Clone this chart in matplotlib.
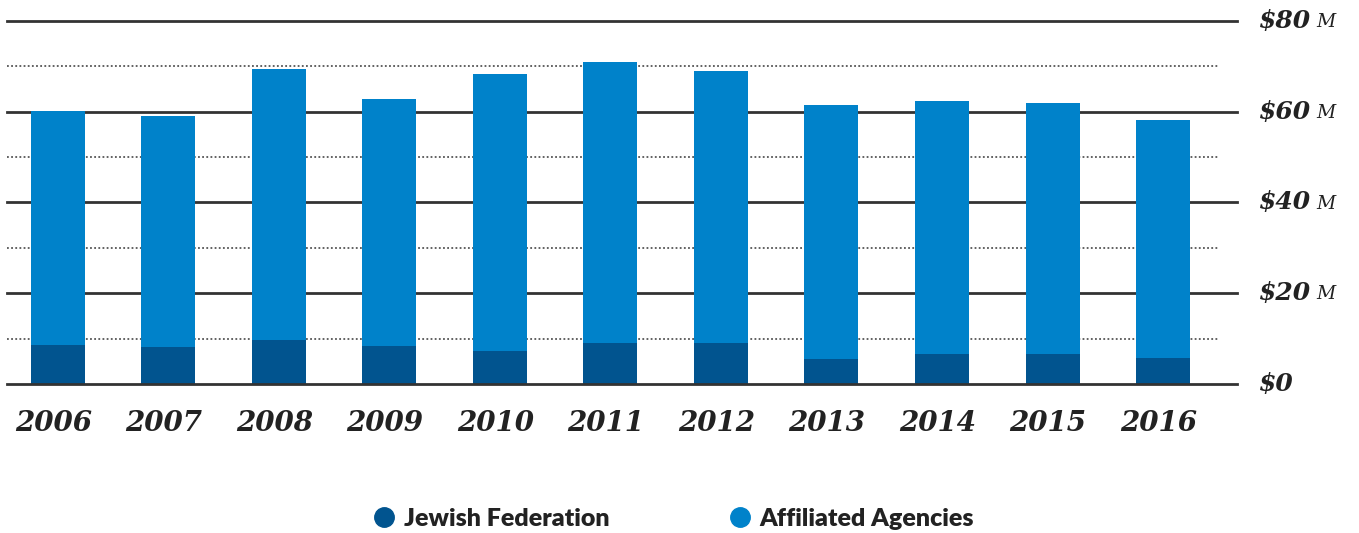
import numpy as np
import matplotlib
matplotlib.use('Agg')
import matplotlib.pyplot as plt
from matplotlib.lines import Line2D

# Values in millions of dollars
years = ['2006', '2007', '2008', '2009', '2010', '2011', '2012', '2013', '2014', '2015', '2016']
federation = [8.6, 8.1, 9.7, 8.4, 7.3, 9.0, 9.0, 5.5, 6.6, 6.6, 5.7]
totals = [60.2, 59.1, 69.4, 62.9, 68.3, 70.9, 68.9, 61.5, 62.4, 62.0, 58.2]
agencies = [t - f for t, f in zip(totals, federation)]

major_ticks = [0, 20, 40, 60, 80]
major_labels = ['$0', '$20', '$40', '$60', '$80']
minor_ticks = [10, 30, 50, 70]

DARK = '#01548f'
LIGHT = '#0082ca'
TEXT = '#222222'
SERIF = ['DejaVu Serif']


def main():
    fig = plt.figure(figsize=(13.59, 5.33), dpi=100)
    W, H = 1359, 533
    # axes spans from the left grid edge to the right end of the solid rules
    ax = fig.add_axes([7 / W, (H - 384) / H, 1230 / W, 363 / H])

    x = np.arange(len(years))
    step = 110.5
    ax.set_xlim((7 - 58) / step, (1237 - 58) / step)
    ax.set_ylim(0, 80)

    # grid lines: dotted ones stop a bit short of the solid ones
    for v in minor_ticks:
        ax.hlines(v, (7 - 58) / step, (1218 - 58) / step, colors='#555555',
                  linestyles=(0, (1, 1.3)), linewidth=1.3, zorder=1)
    for v in major_ticks:
        ax.axhline(v, color='#333333', linewidth=2, zorder=3 if v == 0 else 1,
                   clip_on=False)

    width = 54 / step
    ax.bar(x, federation, width=width, color=DARK, zorder=2)
    ax.bar(x, agencies, width=width, bottom=federation, color=LIGHT, zorder=2)

    for s in ax.spines.values():
        s.set_visible(False)
    ax.set_xticks([])
    ax.set_yticks([])

    # year labels
    for xi, yr in zip(x, years):
        ax.text(xi - 0.04, -8.6, yr, ha='center', va='center', fontsize=20,
                family=SERIF, style='italic', weight='bold', color=TEXT)

    # value labels on the right
    for v, lab in zip(major_ticks, major_labels):
        t = ax.text(1259 / W, (H - 384 + v * 363 / 80) / H, lab,
                    transform=fig.transFigure, ha='left', va='center',
                    fontsize=18, family=SERIF, style='italic', weight='bold',
                    color=TEXT)
        if v > 0:
            ax.annotate(' M', xycoords=t, xy=(1, 0.45), va='center', ha='left',
                        fontsize=13.5, family=SERIF, style='italic',
                        color=TEXT)

    handles = [
        Line2D([], [], marker='o', linestyle='none', markersize=14, color=DARK),
        Line2D([], [], marker='o', linestyle='none', markersize=14, color=LIGHT),
    ]
    leg = fig.legend(handles, ['Jewish Federation', 'Affiliated Agencies'],
                     loc='center', bbox_to_anchor=(0.5 - 9 / W, 14 / H), ncol=2,
                     frameon=False, handletextpad=0.1, columnspacing=4.5,
                     handlelength=1.4,
                     prop={'family': 'Lato', 'weight': 'heavy', 'size': 18})
    for t in leg.get_texts():
        t.set_color(TEXT)

    fig.savefig('out.png', dpi=100, facecolor='white')


if __name__ == '__main__':
    main()
